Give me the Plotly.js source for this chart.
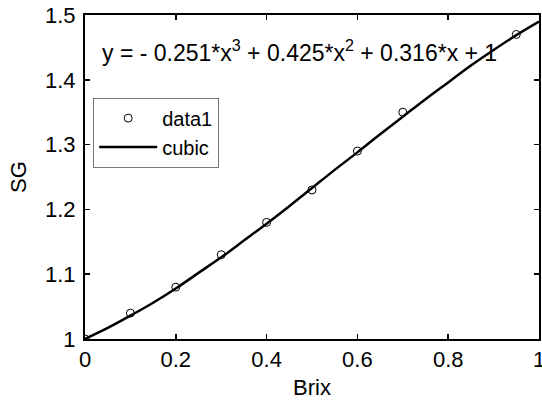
<!DOCTYPE html>
<html>
<head>
<meta charset="utf-8">
<script src="https://cdn.plot.ly/plotly-3.0.1.min.js"></script>
<style>html,body{margin:0;padding:0;background:#fff;}#chart{width:542px;height:408px;}</style>
</head>
<body>
<div id="chart"></div>
<script>
// Measured points (data1)
const brix = [0, 0.1, 0.2, 0.3, 0.4, 0.5, 0.6, 0.7, 0.95];
const sg = [1.00, 1.04, 1.08, 1.13, 1.18, 1.23, 1.29, 1.35, 1.47];
// Cubic fit curve
const curveX = [0, 0.05, 0.1, 0.15, 0.2, 0.25, 0.3, 0.35, 0.4, 0.45, 0.5, 0.55, 0.6, 0.65, 0.7, 0.75, 0.8, 0.85, 0.9, 0.95, 1.0];
const curveY = [1.000, 1.017, 1.036, 1.056, 1.078, 1.102, 1.126, 1.152, 1.178, 1.205, 1.233, 1.261, 1.288, 1.316, 1.343, 1.370, 1.396, 1.422, 1.446, 1.469, 1.490];
const xTicks = [0, 0.2, 0.4, 0.6, 0.8, 1];
const xTickText = ["0", "0.2", "0.4", "0.6", "0.8", "1"];
const yTicks = [1, 1.1, 1.2, 1.3, 1.4, 1.5];
const yTickText = ["1", "1.1", "1.2", "1.3", "1.4", "1.5"];
const equation = "y = - 0.251*x<sup>3</sup> + 0.425*x<sup>2</sup> + 0.316*x + 1";

const font = "Liberation Sans, Arial, sans-serif";

const traces = [
  {x: brix, y: sg, mode: 'markers', name: 'data1', type: 'scatter',
   marker: {symbol: 'circle-open', size: 8, color: '#000', line: {width: 1, color: '#000'}}},
  {x: curveX, y: curveY, mode: 'lines', name: 'cubic', type: 'scatter',
   line: {color: '#000', width: 2.5, shape: 'spline', smoothing: 1}}
];

const axisCommon = {
  showgrid: false, zeroline: false, showline: true, linecolor: '#000', linewidth: 2,
  mirror: 'ticks', ticks: 'inside', ticklen: 5, tickwidth: 1.5, tickcolor: '#000',
  ticklabeloverflow: 'allow',
  tickfont: {family: font, size: 22, color: '#000'}
};

const layout = {
  width: 542, height: 408,
  margin: {l: 85, r: 3, t: 15, b: 69},
  paper_bgcolor: '#fff', plot_bgcolor: '#fff',
  showlegend: true,
  legend: {x: 0.018, y: 0.745, xanchor: 'left', yanchor: 'top',
           bgcolor: '#fff', bordercolor: '#777', borderwidth: 1,
           font: {family: font, size: 20, color: '#000'}, itemwidth: 58, tracegroupgap: 0},
  xaxis: Object.assign({}, axisCommon, {
    range: [0, 1], tickvals: xTicks, ticktext: xTickText,
    title: {text: 'Brix', font: {family: font, size: 22, color: '#000'}, standoff: 8}
  }),
  yaxis: Object.assign({}, axisCommon, {
    range: [1, 1.5], tickvals: yTicks, ticktext: yTickText, ticklabelstandoff: 3,
    title: {text: 'SG', font: {family: font, size: 22, color: '#000'}, standoff: 12}
  }),
  annotations: [{
    xref: 'paper', yref: 'paper', x: 0.033, y: 0.89, xanchor: 'left', yanchor: 'middle',
    text: equation, showarrow: false, font: {family: font, size: 23, color: '#000'}
  }]
};

Plotly.newPlot('chart', traces, layout, {displayModeBar: false, staticPlot: true});
</script>
</body>
</html>
